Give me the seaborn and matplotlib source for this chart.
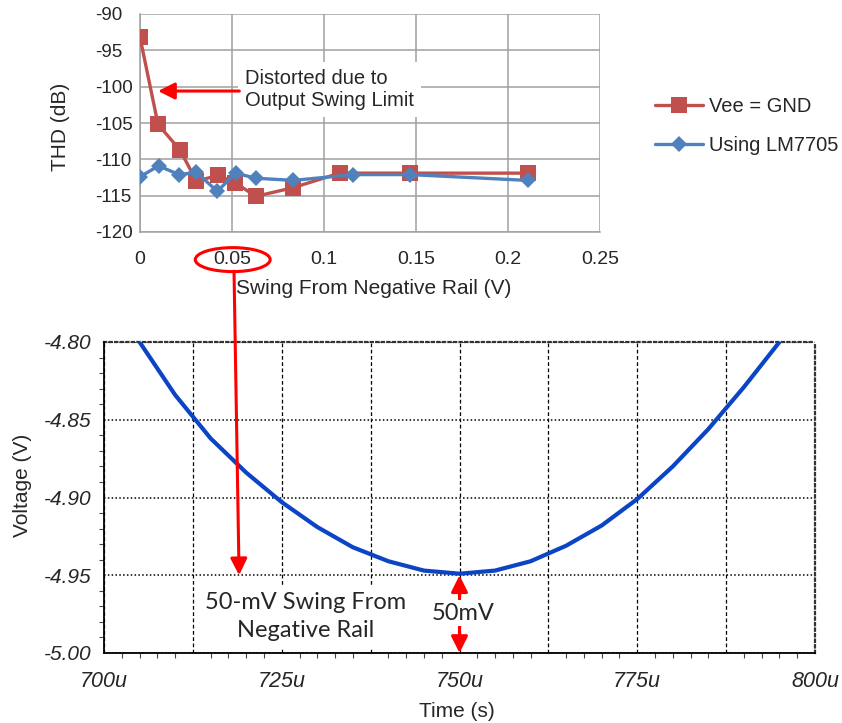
import matplotlib.pyplot as plt
import matplotlib.ticker as mticker
import numpy as np
import seaborn as sns
from matplotlib.patches import ConnectionPatch, Ellipse

# top chart: THD vs swing from negative rail
swing_vee = [0.0, 0.0098, 0.0217, 0.0307, 0.0425, 0.0517, 0.0629, 0.0832, 0.1085, 0.147, 0.2106]
thd_vee = [-93.2, -105.2, -108.7, -113.0, -112.2, -113.2, -115.1, -113.9, -111.9, -111.9, -111.9]
swing_lm = [0.0, 0.0101, 0.0212, 0.0307, 0.042, 0.052, 0.063, 0.0834, 0.116, 0.147, 0.2106]
thd_lm = [-112.4, -110.9, -112.1, -111.8, -114.4, -111.9, -112.6, -112.9, -112.1, -112.1, -112.9]
series_names = ["Vee = GND", "Using LM7705"]
series_colors = ["#C0504D", "#4F81BD"]

top_xticks = [0, 0.05, 0.1, 0.15, 0.2, 0.25]
top_xlabels = ["0", "0.05", "0.1", "0.15", "0.2", "0.25"]
top_yticks = [-120, -115, -110, -105, -100, -95, -90]

# bottom chart: output voltage near the negative rail
time_us = [705, 710, 715, 720, 725, 730, 735, 740, 745, 750,
           755, 760, 765, 770, 775, 780, 785, 790, 795]
volt = [-4.800, -4.834, -4.862, -4.884, -4.903, -4.919, -4.932, -4.941, -4.947, -4.949,
        -4.947, -4.941, -4.931, -4.918, -4.901, -4.880, -4.856, -4.829, -4.800]
bot_xticks = [700, 712.5, 725, 737.5, 750, 762.5, 775, 787.5, 800]
bot_xlabels = ["700u", "", "725u", "", "750u", "", "775u", "", "800u"]
bot_yticks = [-5.00, -4.95, -4.90, -4.85, -4.80]

sns.set_style("white")
plt.rcParams['font.family'] = ['Liberation Sans', 'DejaVu Sans']
plt.rcParams['axes.unicode_minus'] = False

fig = plt.figure(figsize=(8.42, 7.23), dpi=100)
W, H = 842, 723

# ---------------- top chart ----------------
ax1 = fig.add_axes([140 / W, 1 - 232 / H, 460 / W, 218 / H])
grid_gray = "#A0A0A0"
sns.lineplot(x=swing_vee, y=thd_vee, color=series_colors[0], marker="s", markersize=12,
             markeredgewidth=0, linewidth=2.4, label=series_names[0], ax=ax1, zorder=3)
sns.lineplot(x=swing_lm, y=thd_lm, color=series_colors[1], marker="D", markersize=7.8,
             markeredgewidth=0, linewidth=2.4, label=series_names[1], ax=ax1, zorder=4)
ax1.set_xlim(0, 0.25)
ax1.set_ylim(-120, -90)
ax1.set_xticks(top_xticks, top_xlabels, fontsize=14)
ax1.set_yticks(top_yticks, [str(v) for v in top_yticks], fontsize=13.5, ha="left")
ax1.grid(True, color=grid_gray, linewidth=1.1)
ax1.set_axisbelow(True)
for side in ["top", "right"]:
    ax1.spines[side].set_visible(False)
for side in ["left", "bottom"]:
    ax1.spines[side].set_color(grid_gray)
    ax1.spines[side].set_linewidth(1.1)
ax1.tick_params(axis="both", direction="out", length=5, width=1.1, color=grid_gray)
ax1.tick_params(axis="y", pad=27.5)
ax1.tick_params(axis="x", pad=9)
ax1.set_xlabel("Swing From Negative Rail (V)", fontsize=15)
ax1.xaxis.set_label_coords(0.507, -0.258)
ax1.xaxis.label.set_va("center")
ax1.set_ylabel("THD (dB)", fontsize=15)
ax1.yaxis.set_label_coords(-0.172, 0.48)
ax1.yaxis.label.set_va("center")

handles, labels = ax1.get_legend_handles_labels()
ax1.legend(handles, labels, loc="center left", bbox_to_anchor=(655 / W, 1 - 126 / H),
           bbox_transform=fig.transFigure, frameon=False, fontsize=14.5,
           handlelength=2.4, handletextpad=0.3, labelspacing=1.0,
           borderpad=0, borderaxespad=0)

ax1.text(0.0573, -100.4, "Distorted due to\nOutput Swing Limit", fontsize=14.5,
         ha="left", va="center", linespacing=1.2, zorder=5,
         bbox=dict(boxstyle="square,pad=0.35", facecolor="white", edgecolor="none"))
ax1.annotate("", xy=(0.0098, -100.6), xytext=(0.054, -100.6),
             arrowprops=dict(arrowstyle="-|>,head_length=1.0,head_width=0.5",
                             mutation_scale=10, color="red", lw=2.2,
                             shrinkA=0, shrinkB=0), zorder=6)
ax1.add_patch(Ellipse((0.0504, -123.8), 0.0407, 3.3, fill=False, edgecolor="red",
                      linewidth=2.2, clip_on=False, zorder=6))

# ---------------- bottom chart ----------------
ax2 = fig.add_axes([104 / W, 1 - 653 / H, 711 / W, 311 / H])
sns.lineplot(x=time_us, y=volt, color="#0B44C4", linewidth=3, ax=ax2, zorder=3)
ax2.set_xlim(700, 800)
ax2.set_ylim(-5.0, -4.80)
ax2.set_xticks(bot_xticks, bot_xlabels, fontsize=15.5, fontstyle="italic")
ax2.set_yticks(bot_yticks, [f"{v:.2f}" for v in bot_yticks], fontsize=15, fontstyle="italic")
ax2.xaxis.set_minor_locator(mticker.MultipleLocator(2.5))
ax2.yaxis.set_minor_locator(mticker.MultipleLocator(0.01))
ax2.tick_params(axis="x", which="major", direction="out", length=9, width=1, color="black", pad=4)
ax2.tick_params(axis="y", which="major", direction="out", length=9, width=1, color="black", pad=0)
ax2.tick_params(axis="both", which="minor", direction="out", length=3.5, width=0.8,
                color="#444444", bottom=True, left=True)
ax2.yaxis.grid(True, which="major", color="black", linestyle=(0, (1, 1.5)), linewidth=1.1)
ax2.xaxis.grid(True, which="major", color="black", linestyle=(0, (3, 2)), linewidth=0.9)
ax2.set_axisbelow(True)
for side in ["left", "bottom"]:
    ax2.spines[side].set_color("black")
    ax2.spines[side].set_linewidth(1.3)
    ax2.spines[side].set_zorder(6)
for side in ["top", "right"]:
    ax2.spines[side].set_color("#333333")
    ax2.spines[side].set_linestyle((0, (1, 1.5)))
    ax2.spines[side].set_linewidth(1.6)
ax2.set_xlabel("Time (s)", fontsize=15)
ax2.xaxis.set_label_coords(0.497, -0.187)
ax2.xaxis.label.set_va("center")
ax2.set_ylabel("Voltage (V)", fontsize=15)
ax2.yaxis.set_label_coords(-0.114, 0.54)
ax2.yaxis.label.set_va("center")

ax2.text(728.3, -4.9765, "50-mV Swing From\nNegative Rail", fontsize=17,
         family=["Lato", "DejaVu Sans"], ha="center", va="center", multialignment="center",
         linespacing=1.45, zorder=5,
         bbox=dict(boxstyle="square,pad=0.3", facecolor="white", edgecolor="none"))
ax2.annotate("", xy=(750, -4.95), xytext=(750, -5.0),
             arrowprops=dict(arrowstyle="<|-|>,head_length=1.0,head_width=0.5",
                             mutation_scale=10, color="red", lw=2.2,
                             shrinkA=0, shrinkB=0), zorder=7, annotation_clip=False)
ax2.text(750.5, -4.9745, "50mV", fontsize=17, family=["Lato", "DejaVu Sans"],
         ha="center", va="center", zorder=8,
         bbox=dict(boxstyle="square,pad=0.1", facecolor="white", edgecolor="none"))

# long arrow from the 0.05 label down to the -4.95 V level
link = ConnectionPatch(xyA=(0.0511, -125.4), coordsA=ax1.transData,
                       xyB=(719.0, -4.95), coordsB=ax2.transData,
                       arrowstyle="-|>,head_length=1.0,head_width=0.5", mutation_scale=10,
                       color="red", linewidth=2.2, shrinkA=0, shrinkB=0, zorder=8)
fig.add_artist(link)

fig.savefig("out.png", dpi=100)
